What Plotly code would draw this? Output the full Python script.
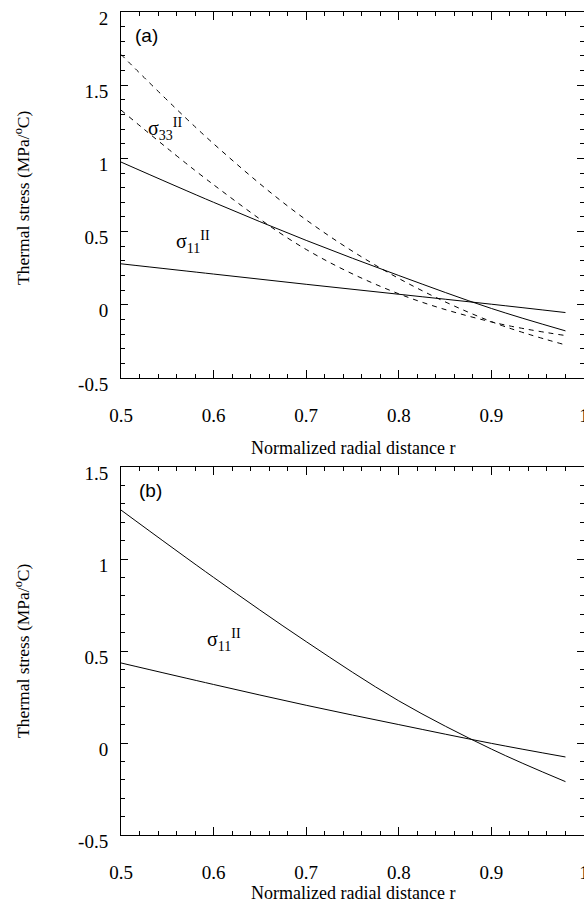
import plotly.graph_objects as go

# ---------------- data ----------------
r_pts = [0.5, 0.6, 0.7, 0.8, 0.9, 0.98]

# panel (a)
a_solid_steep = [0.975, 0.70, 0.44, 0.20, -0.025, -0.178]
a_solid_flat = [0.28, 0.21, 0.14, 0.072, 0.004, -0.053]
a_dash_upper = [1.71, 1.10, 0.58, 0.18, -0.115, -0.274]
a_dash_lower = [1.33, 0.82, 0.378, 0.075, -0.117, -0.21]

# panel (b)
b_solid_steep = [1.266, 0.90, 0.551, 0.229, -0.033, -0.21]
b_solid_flat = [0.435, 0.318, 0.205, 0.10, -0.002, -0.076]

x_tickvals = [0.5, 0.6, 0.7, 0.8, 0.9, 1.0]
x_ticktext = ["0.5", "0.6", "0.7", "0.8", "0.9", "1"]
ya_tickvals = [-0.5, 0, 0.5, 1, 1.5, 2]
ya_ticktext = ["-0.5", "0", "0.5", "1", "1.5", "2"]
yb_tickvals = [-0.5, 0, 0.5, 1, 1.5]
yb_ticktext = ["-0.5", "0", "0.5", "1", "1.5"]

x_title = "Normalized radial distance r"
y_title = "Thermal stress (MPa/<sup>o</sup>C)"

# ---------------- figure ----------------
W, H = 584, 904
SERIF = "Liberation Serif"
SANS = "Liberation Sans"

fig = go.Figure()

solid = dict(color="black", width=1)
dashed = dict(color="black", width=1, dash="5px,5px")

fig.add_trace(go.Scatter(x=r_pts, y=a_dash_upper, mode="lines", line=dict(shape="spline", **dashed),
                         xaxis="x", yaxis="y"))
fig.add_trace(go.Scatter(x=r_pts, y=a_dash_lower, mode="lines", line=dict(shape="spline", **dashed),
                         xaxis="x", yaxis="y"))
fig.add_trace(go.Scatter(x=r_pts, y=a_solid_steep, mode="lines", line=dict(shape="spline", **solid),
                         xaxis="x", yaxis="y"))
fig.add_trace(go.Scatter(x=r_pts, y=a_solid_flat, mode="lines", line=dict(shape="spline", **solid),
                         xaxis="x", yaxis="y"))
fig.add_trace(go.Scatter(x=r_pts, y=b_solid_steep, mode="lines", line=dict(shape="spline", **solid),
                         xaxis="x2", yaxis="y2"))
fig.add_trace(go.Scatter(x=r_pts, y=b_solid_flat, mode="lines", line=dict(shape="spline", **solid),
                         xaxis="x2", yaxis="y2"))


def px_to_paper_y(py):
    return 1 - py / H


tickfont = dict(family=SERIF, size=19, color="black")

xcommon = dict(range=[0.5, 1.0], showline=True, linecolor="black", linewidth=1, mirror="allticks",
               ticks="inside", ticklen=8, tickcolor="black", tickwidth=1,
               tickvals=x_tickvals, ticktext=x_ticktext, tickfont=tickfont, automargin=False,
               showgrid=False, zeroline=False, ticklabelstandoff=20, ticklabeloverflow="allow",
               minor=dict(ticks="inside", dtick=0.02, tick0=0.5, ticklen=4, tickcolor="black", showgrid=False))
ycommon = dict(showline=True, linecolor="black", linewidth=1, mirror="allticks",
               ticks="inside", ticklen=7, tickcolor="black", tickwidth=1,
               tickfont=tickfont, showgrid=False, zeroline=False, automargin=False,
               ticklabelstandoff=8, ticklabelshift=6, ticklabeloverflow="allow",
               minor=dict(ticks="inside", dtick=0.1, tick0=0, ticklen=4, tickcolor="black", showgrid=False))

fig.update_layout(
    width=W, height=H,
    margin=dict(l=121, r=0, t=0, b=0, autoexpand=False),
    paper_bgcolor="white", plot_bgcolor="white",
    font=dict(family=SERIF, color="black"),
    showlegend=False,
    xaxis=dict(domain=[0, 1], anchor="y", **xcommon),
    yaxis=dict(domain=[px_to_paper_y(378), px_to_paper_y(12)], anchor="x", range=[-0.5, 2],
               tickvals=ya_tickvals, ticktext=ya_ticktext, **ycommon),
    xaxis2=dict(domain=[0, 1], anchor="y2", **xcommon),
    yaxis2=dict(domain=[px_to_paper_y(835), px_to_paper_y(467)], anchor="x2", range=[-0.5, 1.5],
                tickvals=yb_tickvals, ticktext=yb_ticktext, **ycommon),
)

anns = []
# axis titles
for yc in (448, 893):
    anns.append(dict(text=x_title, xref="paper", yref="paper", x=0.5, y=px_to_paper_y(yc),
                     xanchor="center", yanchor="middle", showarrow=False,
                     font=dict(family=SERIF, size=18, color="black")))
for yc in (198, 651):
    anns.append(dict(text=y_title, xref="paper", yref="paper", x=(22 - 121) / (W - 121), y=px_to_paper_y(yc),
                     xanchor="center", yanchor="middle", textangle=-90, showarrow=False,
                     font=dict(family=SERIF, size=17.5, color="black")))
# panel letters
anns.append(dict(text="(a)", xref="x", yref="y", x=0.513, y=1.84, xanchor="left", yanchor="middle",
                 showarrow=False, font=dict(family=SANS, size=19, color="black")))
anns.append(dict(text="(b)", xref="x2", yref="y2", x=0.517, y=1.375, xanchor="left", yanchor="middle",
                 showarrow=False, font=dict(family=SANS, size=19, color="black")))
# curve labels
sig_font = dict(family=SERIF, size=20, color="black")
anns.append(dict(text="σ<sub>33</sub><sup>II</sup>", xref="x", yref="y", x=0.527, y=1.2,
                 xanchor="left", yanchor="middle", showarrow=False, font=sig_font))
anns.append(dict(text="σ<sub>11</sub><sup>II</sup>", xref="x", yref="y", x=0.557, y=0.43,
                 xanchor="left", yanchor="middle", showarrow=False, font=sig_font))
anns.append(dict(text="σ<sub>11</sub><sup>II</sup>", xref="x2", yref="y2", x=0.591, y=0.56,
                 xanchor="left", yanchor="middle", showarrow=False, font=sig_font))

fig.update_layout(annotations=anns)

fig.write_html("out.html")
